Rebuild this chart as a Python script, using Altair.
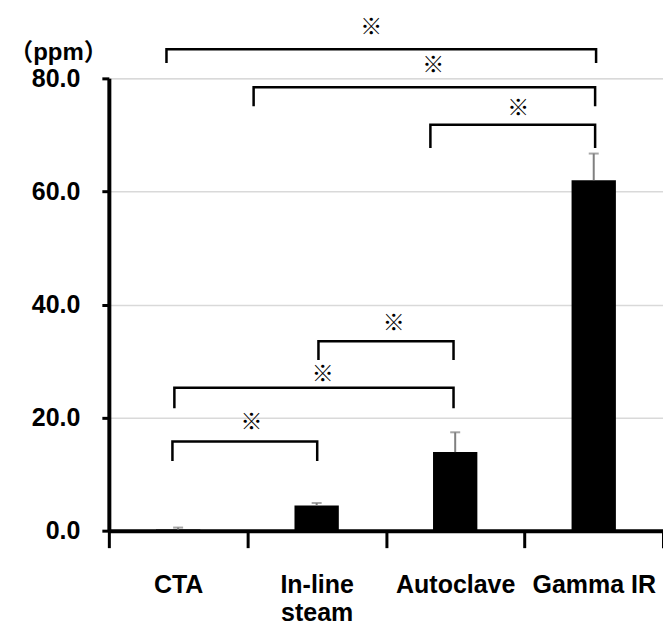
import altair as alt
import pandas as pd

# ---- data ----
categories = ["CTA", "In-line steam", "Autoclave", "Gamma IR"]
means = [0.2, 4.47, 13.9, 62.0]
errors = [0.35, 0.43, 3.5, 4.7]

# significance brackets: x in category-index units (0 = CTA ... 3 = Gamma IR), y in ppm
br_left = [-0.084, 0.545, 1.821, 1.013, -0.027, -0.041]
br_right = [3.017, 3.010, 3.010, 1.988, 1.988, 1.004]
br_top = [85.17, 78.41, 71.80, 33.52, 25.27, 15.78]
br_leg = [82.93, 75.28, 67.91, 30.39, 21.86, 12.55]
star_x = [1.393, 1.842, 2.455, 1.556, 1.044, 0.530]
star_y = [89.0, 82.35, 74.70, 36.81, 27.74, 19.14]
star_label = "※"
y_ticks = [0, 20, 40, 60, 80]

# ---- tables ----
bar_df = pd.DataFrame({
    "cat": categories,
    "mean": means,
    "upper": [m + e for m, e in zip(means, errors)],
})

rows = []
for i, (l, r, t, g) in enumerate(zip(br_left, br_right, br_top, br_leg)):
    for step, (bx, by) in enumerate([(l, g), (l, t), (r, t), (r, g)]):
        rows.append({"id": i, "step": step, "bx": bx, "by": by})
br_df = pd.DataFrame(rows)
star_df = pd.DataFrame({"sx": star_x, "sy": star_y, "txt": [star_label] * len(star_x)})

FONT = "Liberation Sans, Arial, Noto Sans CJK JP"
Y_SCALE = alt.Scale(domain=[0, 80], nice=False, zero=True)
XQ_SCALE = alt.Scale(domain=[-0.5, 3.5], nice=False, zero=False)
XB_SCALE = alt.Scale(paddingInner=0, paddingOuter=0)

x_axis = alt.Axis(
    title=None, labelAngle=0, labelFont=FONT, labelFontWeight="bold",
    labelFontSize=25, labelColor="black", labelPadding=25, labelLineHeight=28,
    labelExpr="datum.label == 'In-line steam' ? ['In-line', 'steam'] : datum.label",
    tickBand="extent", tickSize=17, tickWidth=3, tickColor="black",
    domainColor="black", domainWidth=4, grid=False, labelOverlap=False,
)
y_axis = alt.Axis(
    values=y_ticks, format=".1f", title="（ppm）", titleAngle=0,
    titleX=-51, titleY=-26, titleAlign="center", titleBaseline="middle",
    titleFont=FONT, titleFontSize=24, titleFontWeight="bold", titleColor="black",
    labelFont=FONT, labelFontSize=25, labelFontWeight="bold", labelColor="black",
    labelPadding=22, tickSize=7, tickWidth=3, tickColor="black",
    domainColor="black", domainWidth=4, grid=True, gridColor="#d9d9d9", gridWidth=1.5,
)

xb = alt.X("cat:N", sort=categories, scale=XB_SCALE, axis=x_axis)

bars = alt.Chart(bar_df).mark_bar(color="black", width=alt.RelativeBandSize(0.32)).encode(
    x=xb,
    y=alt.Y("mean:Q", scale=Y_SCALE, axis=y_axis),
)
err = alt.Chart(bar_df).mark_rule(color="#808080", strokeWidth=2).encode(
    x=xb,
    y=alt.Y("mean:Q", scale=Y_SCALE, axis=y_axis),
    y2="upper:Q",
)
cap = alt.Chart(bar_df).mark_tick(color="#808080", thickness=2, size=10).encode(
    x=xb,
    y=alt.Y("upper:Q", scale=Y_SCALE, axis=y_axis),
)

brackets = alt.Chart(br_df).mark_line(
    color="black", strokeWidth=2.5, strokeJoin="miter", strokeCap="square"
).encode(
    x=alt.X("bx:Q", scale=XQ_SCALE, axis=None),
    y=alt.Y("by:Q", scale=Y_SCALE, axis=y_axis),
    detail="id:N",
    order="step:Q",
)
stars = alt.Chart(star_df).mark_text(
    font="Noto Sans CJK JP", fontSize=22, fontWeight="bold", color="black",
    baseline="middle", align="center"
).encode(
    x=alt.X("sx:Q", scale=XQ_SCALE, axis=None),
    y=alt.Y("sy:Q", scale=Y_SCALE, axis=y_axis),
    text="txt:N",
)

base = alt.layer(bars, err, cap)
over = alt.layer(brackets, stars)

chart = alt.layer(base, over).resolve_scale(x="independent").properties(
    width=555, height=453,
    autosize=alt.AutoSizeParams(type="none"),
    padding={"left": 101, "top": 70, "right": 0, "bottom": 96},
).configure_view(stroke=None).configure(background="white")

chart.save("out.html", embed_options={"renderer": "svg", "actions": False})
